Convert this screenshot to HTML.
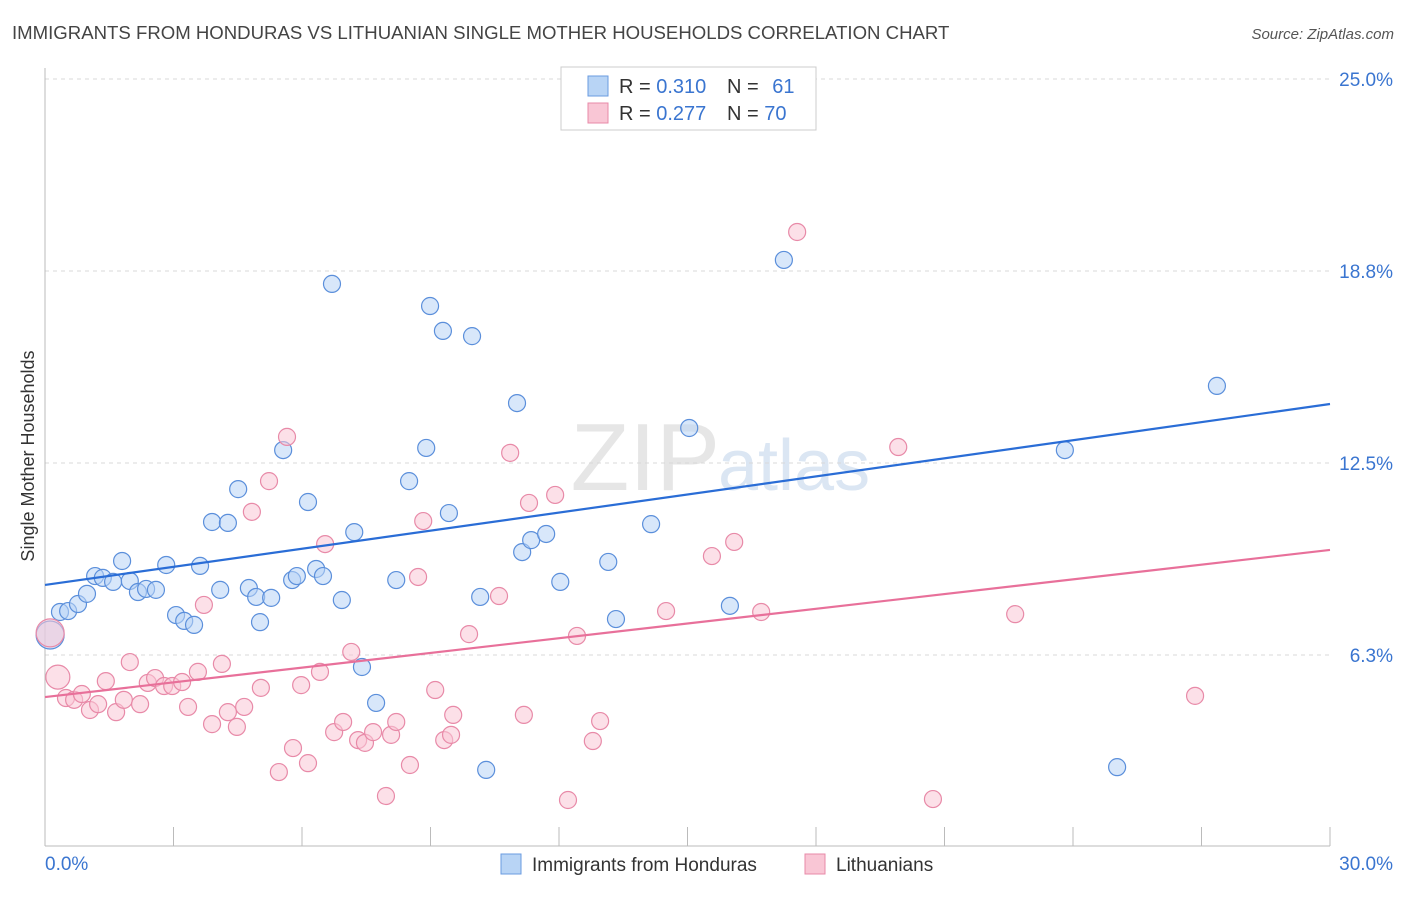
<!DOCTYPE html>
<html><head><meta charset="utf-8">
<style>
body{margin:0;background:#fff;font-family:"Liberation Sans",sans-serif;}
svg text{font-family:"Liberation Sans",sans-serif;}
</style></head>
<body>
<svg id="chart" width="1406" height="892" xmlns="http://www.w3.org/2000/svg">
<text x="12" y="39" font-size="18.6" fill="#444">IMMIGRANTS FROM HONDURAS VS LITHUANIAN SINGLE MOTHER HOUSEHOLDS CORRELATION CHART</text>
<text x="1394" y="39" font-size="15" fill="#555" font-style="italic" text-anchor="end">Source: ZipAtlas.com</text>
<text x="720" y="490" font-size="96" fill="#e6e6e6" text-anchor="end" font-family="Liberation Serif">ZIP</text>
<text x="718" y="490" font-size="72" fill="#dbe6f3">atlas</text>
<g id="grid"></g>
<g id="axes"></g>
<g id="pts"></g>
<g id="lines"></g>
<text transform="translate(34,456) rotate(-90)" font-size="18" fill="#333" text-anchor="middle">Single Mother Households</text>
<g>
<rect x="561" y="67" width="255" height="63" fill="#fff" stroke="#ccc"/>
<rect x="588" y="76" width="20" height="20" fill="#b8d4f5" stroke="#6a9be0"/>
<rect x="588" y="103" width="20" height="20" fill="#f9c6d5" stroke="#e88aa8"/>
<text x="619" y="93" font-size="20" fill="#333">R = <tspan fill="#3a75d0">0.310</tspan></text>
<text x="727" y="93" font-size="20" fill="#333">N = <tspan fill="#3a75d0" dx="8">61</tspan></text>
<text x="619" y="120" font-size="20" fill="#333">R = <tspan fill="#3a75d0">0.277</tspan></text>
<text x="727" y="120" font-size="20" fill="#333">N = <tspan fill="#3a75d0">70</tspan></text>
</g>
<g>
<rect x="501" y="854" width="20" height="20" fill="#b8d4f5" stroke="#6a9be0"/>
<text x="532" y="871" font-size="19" fill="#333">Immigrants from Honduras</text>
<rect x="805" y="854" width="20" height="20" fill="#f9c6d5" stroke="#e88aa8"/>
<text x="836" y="871" font-size="19" fill="#333">Lithuanians</text>
</g>
</svg>
<script>
const yTicks=[6.25,12.5,18.75,25];
const yTickLabels=["6.3%","12.5%","18.8%","25.0%"];
const xTicks=[0,3,6,9,12,15,18,21,24,27,30];
const blueX=[0.12,0.35,0.54,0.77,0.98,1.17,1.35,1.59,1.80,1.98,2.17,2.36,2.59,2.83,3.06,3.25,3.48,3.62,3.90,4.09,4.27,4.51,4.76,4.93,5.02,5.28,5.56,5.77,5.88,6.14,6.33,6.49,6.70,6.93,7.22,7.40,7.73,8.20,8.50,8.90,8.99,9.29,9.43,9.97,10.16,10.30,11.02,11.14,11.35,11.70,12.03,13.15,13.33,14.15,15.04,15.99,17.25,23.81,25.03,27.36];
const blueY=[6.90,7.65,7.68,7.91,8.24,8.82,8.76,8.63,9.31,8.66,8.30,8.40,8.37,9.18,7.55,7.36,7.23,9.15,10.58,8.37,10.55,11.65,8.43,8.14,7.32,8.11,12.92,8.69,8.82,11.23,9.05,8.82,18.33,8.04,10.25,5.86,4.69,8.69,11.91,12.99,17.61,16.80,10.87,16.63,8.14,2.51,14.45,9.60,9.99,10.19,8.63,9.28,7.42,10.51,13.64,7.85,19.11,12.92,2.60,15.01];
const pinkX=[0.12,0.30,0.49,0.68,0.86,1.05,1.24,1.42,1.66,1.84,1.98,2.22,2.40,2.57,2.78,2.97,3.20,3.34,3.57,3.71,3.90,4.13,4.27,4.48,4.65,4.83,5.04,5.23,5.46,5.65,5.79,5.98,6.14,6.42,6.54,6.75,6.96,7.15,7.31,7.47,7.66,7.96,8.08,8.20,8.52,8.71,8.83,9.11,9.32,9.48,9.53,9.90,10.60,10.86,11.18,11.30,11.91,12.21,12.42,12.79,12.96,14.50,15.57,16.09,16.72,17.56,19.92,20.73,22.65,26.85];
const pinkY=[6.97,5.53,4.85,4.79,4.98,4.46,4.65,5.40,4.39,4.79,6.02,4.65,5.34,5.50,5.24,5.24,5.37,4.56,5.70,7.88,4.00,5.96,4.39,3.91,4.56,10.91,5.18,11.91,2.44,13.35,3.22,5.27,2.73,5.70,9.86,3.74,4.07,6.35,3.48,3.39,3.74,1.66,3.65,4.07,2.67,8.79,10.61,5.11,3.48,3.65,4.30,6.93,8.17,12.83,4.30,11.20,11.46,1.53,6.87,3.45,4.10,7.68,9.47,9.93,7.65,20.02,13.02,1.56,7.58,4.92];
const blueTrend=[8.53,14.42];
const pinkTrend=[4.88,9.67];
const NS="http://www.w3.org/2000/svg";
const X0=45,X1=1330,Y0=847,YS=30.72;
function sx(v){return X0+v/30*(X1-X0);}
function sy(v){return Y0-v*YS;}
function mk(tag,attrs,parent){const e=document.createElementNS(NS,tag);for(const k in attrs)e.setAttribute(k,attrs[k]);parent.appendChild(e);return e;}
const grid=document.getElementById('grid'),axes=document.getElementById('axes'),pts=document.getElementById('pts'),lines=document.getElementById('lines');
yTicks.forEach((t,i)=>{
 const l=mk('line',{x1:X0,x2:X1,y1:sy(t),y2:sy(t),stroke:'#d8d8d8','stroke-dasharray':'4,4'},grid);
 
 
 const tx=mk('text',{x:1393,y:sy(t)+7,'font-size':19,fill:'#3a75d0','text-anchor':'end'},axes);
 tx.textContent=yTickLabels[i];
 
 
});
const ya=mk('line',{x1:X0,x2:X0,y1:68,y2:846,stroke:'#bbb'},axes);


const xa=mk('line',{x1:X0,x2:X1,y1:846,y2:846,stroke:'#bbb'},axes);


xTicks.forEach(t=>{
 const l=mk('line',{x1:sx(t),x2:sx(t),y1:827,y2:846,stroke:'#bbb'},axes);
 
 
});
const xl0=mk('text',{x:45,y:870,'font-size':19,fill:'#3a75d0'},axes);xl0.textContent='0.0%';


const xl1=mk('text',{x:1393,y:870,'font-size':19,fill:'#3a75d0','text-anchor':'end'},axes);xl1.textContent='30.0%';


function drawSeries(xs,ys,fill,stroke,name){
 xs.forEach((x,i)=>{
  let r=8.5;
  if(i===0) r=14;
  if(name==='pink'&&i===1) r=12;
  const c=mk('circle',{cx:sx(x),cy:sy(ys[i]),r:r,fill:fill,'fill-opacity':0.55,stroke:stroke,'stroke-width':1.2},pts);
  
  
 });
}
drawSeries(blueX,blueY,'#b8d4f5','#5b8fdb','blue');
drawSeries(pinkX,pinkY,'#f9c6d5','#e88aa8','pink');
[[blueTrend,'#2a6dd6','blue-trendline'],[pinkTrend,'#e8709a','pink-trendline']].forEach(d=>{
 const l=mk('line',{x1:sx(0),y1:sy(d[0][0]),x2:sx(30),y2:sy(d[0][1]),stroke:d[1],'stroke-width':2.2},lines);
 
 
});
</script>
</body></html>
